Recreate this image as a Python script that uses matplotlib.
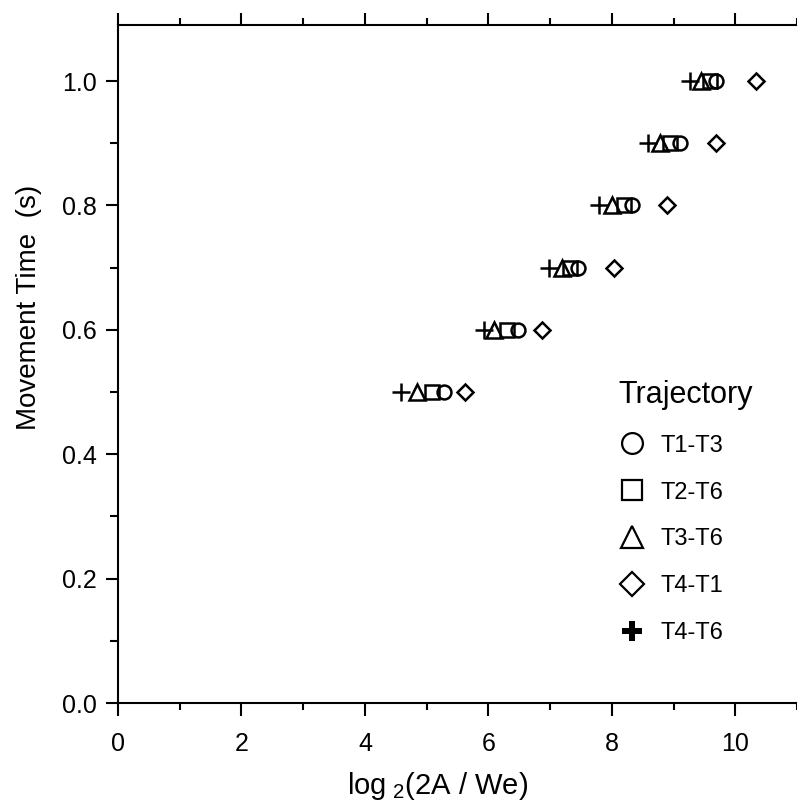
import numpy as np
import matplotlib
matplotlib.use("Agg")
import matplotlib.pyplot as plt
from matplotlib.lines import Line2D
from matplotlib.ticker import MultipleLocator

plt.rcParams["font.family"] = ["Liberation Sans", "DejaVu Sans"]
plt.rcParams["mathtext.default"] = "regular"

# Movement time levels (s), shared by every trajectory
MT = [0.5, 0.6, 0.7, 0.8, 0.9, 1.0]

# Effective index of difficulty log2(2A/We), per trajectory
ID_T1_T3 = [5.28, 6.48, 7.46, 8.32, 9.11, 9.69]
ID_T2_T6 = [5.09, 6.30, 7.33, 8.20, 8.95, 9.59]
ID_T3_T6 = [4.85, 6.09, 7.19, 8.00, 8.78, 9.45]
ID_T4_T1 = [5.62, 6.87, 8.04, 8.89, 9.68, 10.34]
ID_T4_T6 = [4.59, 5.93, 6.98, 7.80, 8.59, 9.27]

LABELS = ["T1-T3", "T2-T6", "T3-T6", "T4-T1", "T4-T6"]


def main():
    fig = plt.figure(figsize=(7.97, 8.10), dpi=100)
    ax = fig.add_axes([0.148, 0.132, 0.852, 0.837])

    style = dict(linestyle="none", color="black", markerfacecolor="none",
                 markeredgewidth=1.8, zorder=3)
    ax.plot(ID_T1_T3, MT, marker="o", markersize=10, **style)
    ax.plot(ID_T2_T6, MT, marker="s", markersize=10, **style)
    ax.plot(ID_T3_T6, MT, marker="^", markersize=11, **style)
    ax.plot(ID_T4_T1, MT, marker="D", markersize=8, **style)
    ax.plot(ID_T4_T6, MT, marker="+", markersize=13, **style)

    # legend uses larger, open symbols and a bold plus
    hstyle = dict(linestyle="none", color="black", markerfacecolor="none",
                  markeredgewidth=1.6)
    handles = [
        Line2D([], [], marker="o", markersize=15, **hstyle),
        Line2D([], [], marker="s", markersize=15, **hstyle),
        Line2D([], [], marker="^", markersize=16, **hstyle),
        Line2D([], [], marker="D", markersize=12, **hstyle),
        Line2D([], [], marker="P", markersize=14, linestyle="none",
               color="black", markeredgewidth=0),
    ]
    leg = ax.legend(handles, LABELS, title="Trajectory", loc="upper left",
                    bbox_to_anchor=(0.705, 0.508), frameon=False, fontsize=17,
                    title_fontsize=22, labelspacing=1.05, handlelength=1.2,
                    handletextpad=0.6)
    leg._legend_box.align = "left"

    ax.set_xlim(0, 11)
    ax.set_ylim(0, 1.09)
    ax.xaxis.set_major_locator(MultipleLocator(2))
    ax.xaxis.set_minor_locator(MultipleLocator(1))
    ax.yaxis.set_major_locator(MultipleLocator(0.2))
    ax.yaxis.set_minor_locator(MultipleLocator(0.1))
    ax.yaxis.set_major_formatter(matplotlib.ticker.FormatStrFormatter("%.1f"))

    ax.spines["right"].set_visible(False)
    for s in ("left", "bottom", "top"):
        ax.spines[s].set_linewidth(1.5)

    ax.tick_params(axis="x", which="both", direction="out", top=True,
                   labelsize=18, width=1.5, pad=12)
    ax.tick_params(axis="x", which="major", length=9)
    ax.tick_params(axis="x", which="minor", length=5)
    ax.tick_params(axis="y", which="both", direction="out", labelsize=18,
                   width=1.5, pad=6)
    ax.tick_params(axis="y", which="major", length=9)
    ax.tick_params(axis="y", which="minor", length=6)

    ax.set_ylabel("Movement Time  (s)", fontsize=20)
    ax.yaxis.set_label_coords(-0.112, 0.584)
    ax.set_xlabel(r"log$_{\ 2}$(2A / We)", fontsize=21)
    ax.xaxis.set_label_coords(0.47, -0.098)

    fig.savefig("out.png", dpi=100)
    plt.close(fig)


if __name__ == "__main__":
    main()
